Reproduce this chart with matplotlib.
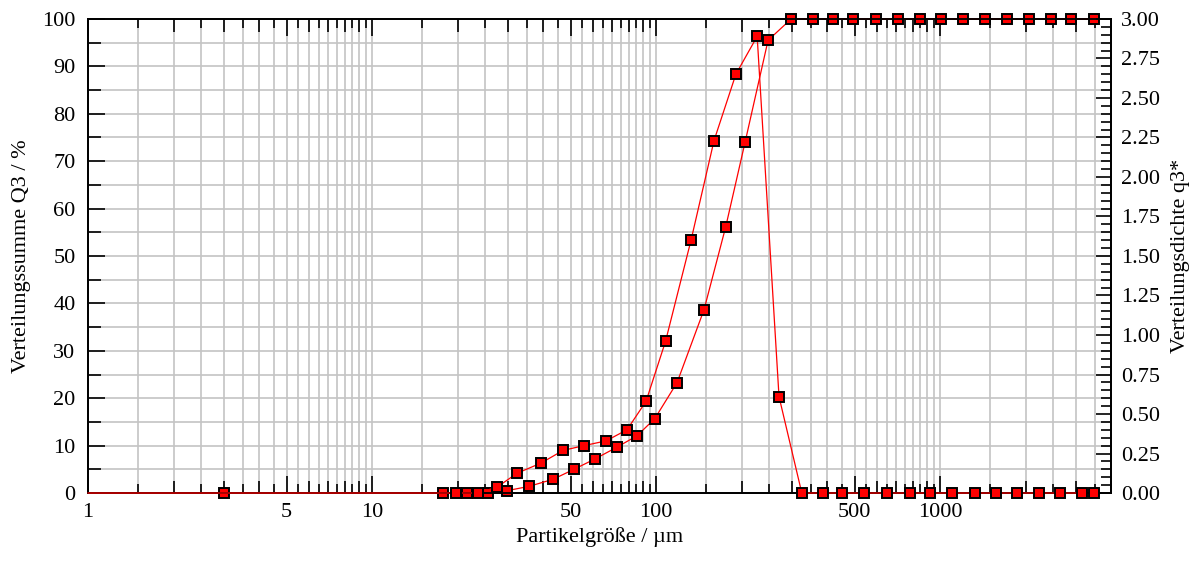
import matplotlib
matplotlib.use("Agg")
import matplotlib.pyplot as plt
import numpy as np
from matplotlib.ticker import FixedLocator, MultipleLocator, FormatStrFormatter, NullFormatter

plt.rcParams['font.family'] = ['Liberation Serif', 'DejaVu Serif']
plt.rcParams['font.size'] = 16

# cumulative distribution Q3 in %
q3_sum_x = [3, 17.8, 21.6, 25.6, 29.9, 35.7, 43.4, 51.4, 61, 73, 85.8, 99, 118.6,
            147.6, 176, 206, 248, 299, 357, 420, 494, 595, 711, 850, 1010, 1205,
            1440, 1722, 2057, 2460, 2892, 3486]
q3_sum_y = [0, 0, 0, 0, 0.5, 1.4, 2.9, 5.0, 7.2, 9.7, 12.1, 15.7, 23.3,
            38.7, 56.2, 74.1, 95.5, 100, 100, 100, 100, 100, 100, 100, 100, 100,
            100, 100, 100, 100, 100, 100]

# density distribution q3*
q3_dens_x = [19.8, 23.6, 27.6, 32.4, 39.4, 47.1, 55.8, 66.7, 79, 92.2, 108, 132.8,
             160, 191, 227, 271, 326, 387, 452, 540, 651, 784, 922, 1102, 1328,
             1574, 1867, 2233, 2648, 3162, 3486]
q3_dens_y = [0, 0, 0.038, 0.125, 0.19, 0.27, 0.30, 0.33, 0.40, 0.58, 0.96, 1.60,
             2.23, 2.65, 2.89, 0.61, 0, 0, 0, 0, 0, 0, 0, 0, 0,
             0, 0, 0, 0, 0, 0]

x_min, x_max = 1, 4000
major_x = [1, 5, 10, 50, 100, 500, 1000]

fig = plt.figure(figsize=(12.04, 5.63), dpi=100)
ax = fig.add_axes([0.0731, 0.1243, 0.8497, 0.842])
ax2 = ax.twinx()

ax.set_xscale('log')
ax.set_xlim(x_min, x_max)
ax.set_ylim(0, 100)
ax2.set_ylim(0, 3)

# ticks on the x axis: decades & 5s, integers, half steps
decades = [1, 10, 100, 1000]
int_ticks = [m * d for d in decades for m in range(2, 10) if m != 5 and m * d <= x_max]
half_ticks = [m * d for d in decades for m in np.arange(1.5, 10, 1.0) if m * d <= x_max]
all_grid = sorted(int_ticks + half_ticks + major_x)

ax.xaxis.set_major_locator(FixedLocator(major_x))
ax.xaxis.set_major_formatter(FormatStrFormatter('%g'))
ax.xaxis.set_minor_locator(FixedLocator(int_ticks))
ax.xaxis.set_minor_formatter(NullFormatter())
ax.tick_params(axis='x', which='major', direction='in', length=12, width=1.2, top=True, pad=7)
ax.tick_params(axis='x', which='minor', direction='in', length=9, width=1.2, top=True)

for side in ['bottom', 'top']:
    sec = ax.secondary_xaxis(side)
    sec.set_xticks(half_ticks)
    sec.set_xticklabels([])
    sec.tick_params(direction='in', length=6.5, width=1.2)
    sec.xaxis.set_minor_locator(FixedLocator([]))
    sec.spines[side].set_visible(False)

ax.yaxis.set_major_locator(MultipleLocator(10))
ax.yaxis.set_minor_locator(MultipleLocator(5))
ax.tick_params(axis='y', which='major', direction='in', length=12, width=1.2, pad=9)
ax.tick_params(axis='y', which='minor', direction='in', length=9, width=1.2)

ax2.yaxis.set_major_locator(MultipleLocator(0.25))
ax2.yaxis.set_minor_locator(MultipleLocator(0.05))
ax2.yaxis.set_major_formatter(FormatStrFormatter('%.2f'))
ax2.tick_params(axis='y', which='major', direction='in', length=11, width=1.2, pad=7)
ax2.tick_params(axis='y', which='minor', direction='in', length=7.5, width=1.2)

# grid
for gx in all_grid:
    ax.axvline(gx, color='#c4c4c4', linewidth=1.2, zorder=0)
for gy in np.arange(5, 100, 5):
    ax.axhline(gy, color='#c4c4c4', linewidth=1.2, zorder=0)

for a in (ax, ax2):
    for s in a.spines.values():
        s.set_linewidth(1.3)

# data
ax.plot([x_min] + q3_sum_x, [0] + q3_sum_y, color='red', linewidth=0.9, zorder=3, clip_on=False)
ax.plot(q3_sum_x, q3_sum_y, linestyle='none', marker='s', markersize=7.5,
        markerfacecolor='red', markeredgecolor='black', markeredgewidth=1.4,
        zorder=4, clip_on=False)
ax2.plot([x_min] + q3_dens_x, [0] + q3_dens_y, color='red', linewidth=0.9, zorder=3, clip_on=False)
ax2.plot(q3_dens_x, q3_dens_y, linestyle='none', marker='s', markersize=7.5,
         markerfacecolor='red', markeredgecolor='black', markeredgewidth=1.4,
         zorder=4, clip_on=False)

ax.set_xlabel('Partikelgröße / µm', labelpad=4)
ax.set_ylabel('Verteilungssumme Q3 / %', labelpad=8)
ax2.set_ylabel('Verteilungsdichte q3*', labelpad=8)

fig.savefig('out.png', dpi=100)
